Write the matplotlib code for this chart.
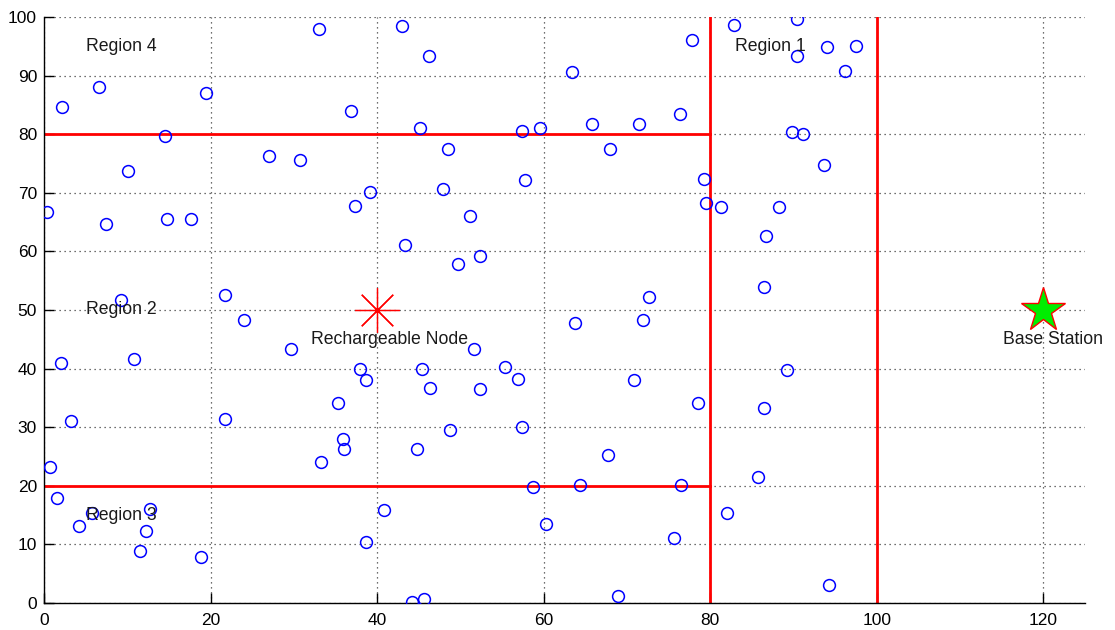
import matplotlib
matplotlib.use('Agg')

import matplotlib.pyplot as plt

# sensor node positions
node_x = [0.4, 2.1, 6.6, 7.4, 10.1, 14.5, 14.8, 17.6, 19.5, 27.0,
          30.7, 33.0, 36.8, 37.4, 39.1, 9.3, 21.7, 24.0, 43.0, 46.2,
          63.4, 77.8, 82.8, 45.2, 48.5, 57.4, 59.5, 65.8, 71.5, 76.4,
          68.0, 47.9, 57.8, 79.3, 79.5, 81.3, 51.2, 43.4, 49.7, 52.3,
          72.6, 63.8, 71.9, 90.4, 90.4, 94.0, 97.5, 96.2, 89.8, 91.1,
          93.7, 88.3, 86.7, 86.5, 2.0, 10.8, 29.7, 3.2, 21.7, 38.0,
          38.7, 35.3, 35.9, 36.0, 33.2, 0.7, 1.6, 5.7, 4.2, 12.7,
          12.3, 11.5, 18.9, 38.7, 40.8, 51.6, 45.4, 46.4, 55.4, 56.9,
          52.3, 70.8, 78.5, 48.7, 57.4, 44.8, 67.7, 58.7, 64.3, 76.5,
          82.0, 60.3, 75.6, 44.2, 45.6, 68.9, 89.2, 86.5, 85.7, 94.2]
node_y = [66.8, 84.6, 88.0, 64.7, 73.7, 79.7, 65.6, 65.6, 87.0, 76.3,
          75.6, 97.9, 84.0, 67.7, 70.1, 51.7, 52.6, 48.3, 98.5, 93.4,
          90.6, 96.0, 98.7, 81.1, 77.5, 80.6, 81.1, 81.8, 81.8, 83.5,
          77.5, 70.6, 72.1, 72.3, 68.3, 67.5, 66.1, 61.1, 57.8, 59.2,
          52.2, 47.8, 48.3, 99.7, 93.4, 94.9, 95.1, 90.8, 80.4, 80.1,
          74.7, 67.5, 62.6, 54.0, 40.9, 41.6, 43.3, 31.1, 31.4, 40.0,
          38.1, 34.1, 27.9, 26.2, 24.1, 23.2, 17.9, 15.3, 13.1, 16.0,
          12.2, 8.9, 7.9, 10.4, 15.9, 43.3, 40.0, 36.6, 40.2, 38.3,
          36.5, 38.1, 34.2, 29.5, 30.0, 26.2, 25.3, 19.8, 20.1, 20.1,
          15.3, 13.4, 11.0, 0.2, 0.6, 1.1, 39.8, 33.3, 21.5, 3.0]

# region boundaries
h_lines_y = [80, 20]
h_lines_x = [0, 80]
v_lines_x = [80, 100]
v_lines_y = [0, 100]

recharge_xy = (40, 50)
base_xy = (120, 50)

region_labels = ['Region 4', 'Region 1', 'Region 2', 'Region 3']
region_pos = [(5, 95), (83, 95), (5, 50), (5, 15)]

plt.rcParams['font.family'] = ['Liberation Sans', 'DejaVu Sans']

fig = plt.figure(figsize=(11.15, 6.3), dpi=100)
ax = fig.add_axes([0.0395, 0.043, 0.9336, 0.930])

ax.grid(True, color='0.25', linestyle=(0, (1, 3)), linewidth=0.9)
ax.set_axisbelow(True)

for y in h_lines_y:
    ax.plot(h_lines_x, [y, y], color='red', linewidth=2, zorder=2)
for x in v_lines_x:
    ax.plot([x, x], v_lines_y, color='red', linewidth=2, zorder=2)

ax.plot(node_x, node_y, linestyle='none', marker='o', markersize=8.5,
        markerfacecolor='none', markeredgecolor='blue', markeredgewidth=1.1, zorder=3)

ax.plot(*recharge_xy, marker=(8, 2, 0), markersize=32, color='red',
        markeredgewidth=0.9, linestyle='none', zorder=4)
ax.plot(*base_xy, marker='*', markersize=33, markerfacecolor='#00ee00',
        markeredgecolor='red', markeredgewidth=1, linestyle='none', zorder=4)

fs = 12.7
for lab, (x, y) in zip(region_labels, region_pos):
    ax.text(x, y, lab, fontsize=fs, va='center', ha='left', color='0.1')
ax.text(32, 45, 'Rechargeable Node', fontsize=fs, va='center', ha='left', color='0.1')
ax.text(115.2, 45, 'Base Station', fontsize=fs, va='center', ha='left', color='0.1')

ax.set_xlim(0, 125)
ax.set_ylim(0, 100)
ax.set_xticks(range(0, 121, 20))
ax.set_yticks(range(0, 101, 10))
ax.tick_params(direction='in', length=7, width=1, labelsize=12.5, colors='black')
ax.tick_params(axis='x', pad=7)
ax.tick_params(axis='y', pad=5)
ax.spines['top'].set_visible(False)
ax.spines['right'].set_visible(False)
for s in ('left', 'bottom'):
    ax.spines[s].set_linewidth(1)

fig.savefig('out.png', dpi=100)
plt.close(fig)
